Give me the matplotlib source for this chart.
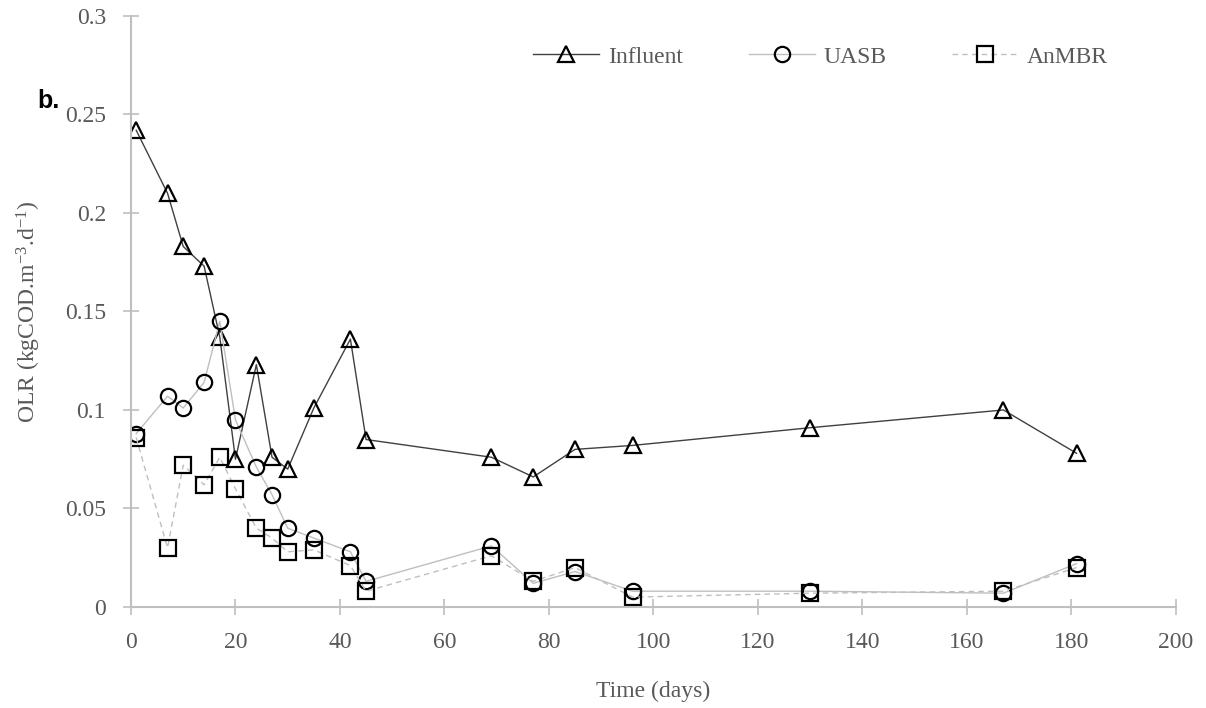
import matplotlib
matplotlib.use("Agg")
import matplotlib.pyplot as plt

plt.rcParams['font.family'] = ['Liberation Serif', 'DejaVu Serif']
plt.rcParams['mathtext.fontset'] = 'custom'
plt.rcParams['mathtext.rm'] = 'Liberation Serif'
plt.rcParams['mathtext.it'] = 'Liberation Serif:italic'

# dias de muestreo
dias = [1, 7, 10, 14, 17, 20, 24, 27, 30, 35, 42, 45, 69, 77, 85, 96, 130, 167, 181]

# carga organica volumetrica (kgCOD.m-3.d-1)
influente = [0.242, 0.210, 0.183, 0.173, 0.137, 0.075, 0.123, 0.076, 0.070, 0.101,
             0.136, 0.085, 0.076, 0.066, 0.080, 0.082, 0.091, 0.100, 0.078]
uasb = [0.088, 0.107, 0.101, 0.114, 0.145, 0.095, 0.071, 0.057, 0.040, 0.035,
        0.028, 0.013, 0.031, 0.012, 0.018, 0.008, 0.008, 0.007, 0.022]
anmbr = [0.086, 0.030, 0.072, 0.062, 0.076, 0.060, 0.040, 0.035, 0.028, 0.029,
         0.021, 0.008, 0.026, 0.013, 0.020, 0.005, 0.007, 0.008, 0.020]

gris = '#595959'
eje = '#bfbfbf'

fig = plt.figure(figsize=(12.06, 7.08), dpi=100)
ax = fig.add_axes([0.1086, 0.1427, 0.8664, 0.8347])

estilo = dict(markersize=11, markeredgewidth=1.6, markeredgecolor='black',
              markerfacecolor='none')
ax.plot(dias, influente, color='#404040', lw=1.0, marker='^', label='Influent', **estilo)
ax.plot(dias, uasb, color='#bfbfbf', lw=1.0, marker='o', label='UASB', **estilo)
ax.plot(dias, anmbr, color='#bfbfbf', lw=1.0, ls=(0, (4, 3)), marker='s', label='AnMBR', **estilo)

ax.set_xlim(0, 200)
ax.set_ylim(0, 0.3)
ax.set_xticks(range(0, 201, 20))
ax.set_yticks([0, 0.05, 0.1, 0.15, 0.2, 0.25, 0.3])
ax.set_yticklabels(['0', '0.05', '0.1', '0.15', '0.2', '0.25', '0.3'])

for s in ['top', 'right']:
    ax.spines[s].set_visible(False)
for s in ['left', 'bottom']:
    ax.spines[s].set_color(eje)
    ax.spines[s].set_linewidth(1.5)
ax.tick_params(direction='inout', length=12, width=1.2, color=eje,
               labelcolor=gris, labelsize=17)
ax.tick_params(axis='x', pad=12)
ax.tick_params(axis='y', pad=12)

ax.set_xlabel('Time (days)', color=gris, fontsize=17, labelpad=20)
ax.set_ylabel(r'OLR (kgCOD.m$^{-3}$.d$^{-1}$)', color=gris, fontsize=17, labelpad=16)

leg = ax.legend(loc='upper right', bbox_to_anchor=(0.955, 0.985), ncol=3, frameon=False,
                fontsize=17, handlelength=2.8, columnspacing=2.8, handletextpad=0.35)
for t in leg.get_texts():
    t.set_color(gris)

fig.text(0.031, 0.848, 'b.', fontsize=18, fontweight='bold',
         family=['Liberation Sans', 'DejaVu Sans'], color='black')

fig.savefig('out.png', dpi=100)
